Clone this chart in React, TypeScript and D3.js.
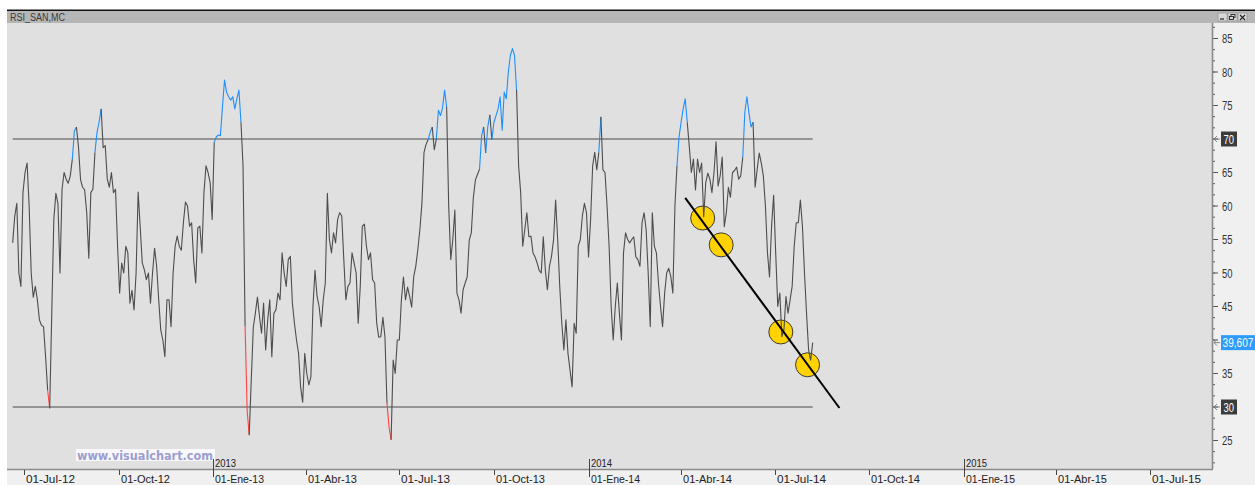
import * as d3 from "d3";

// RSI readings, one every 2 calendar days from rsiStart
const rsiStart = new Date(2012, 5, 20);
const rsiStepDays = 2;
const rsiValues = [
  54.5, 58.5, 60.4, 50, 48, 62, 65, 66.4, 60, 50,
  46.4, 48, 46, 43, 42.2, 42, 37.5, 32.5, 29.8, 44,
  58, 61.9, 60.4, 50, 62.5, 65, 64, 63.4, 64.5, 67,
  71.2, 71.8, 68.8, 63.9, 62.8, 62.4, 59, 52.2, 62, 62.5,
  68, 71, 72.5, 74.5, 68.7, 69, 64, 62.8, 65, 62,
  62.5, 54, 47, 51.5, 50, 54, 53, 45.5, 47.4, 44.5,
  50, 62.1, 56.9, 51.5, 50.5, 49, 50, 45.5, 50, 53.7,
  51, 46, 41.5, 40, 37.5, 46, 46, 42, 50, 54,
  55.5, 54, 53.4, 57.5, 60.6, 60, 57, 57.5, 52, 48.5,
  56.7, 57, 53, 62, 66, 65, 63.5, 58, 69.5, 70.3,
  70.6, 70.5, 74.8, 78.8, 77, 76.3, 75.8, 76.3, 74.5, 76,
  77.3, 72.5, 66, 42, 29.5, 25.8, 34, 41.9, 44, 46.4,
  43.5, 41, 45.5, 38.5, 43, 46, 37.5, 44, 44.5, 47,
  46, 53, 50, 48, 52, 52.5, 45.5, 42.5, 40, 38,
  33, 30.7, 38, 35, 33.3, 34.5, 45, 50.4, 46.5, 45,
  42, 46, 48.5, 61.9, 55, 53, 56, 54.5, 58, 59,
  58.5, 52, 46, 48, 48.5, 53, 51.5, 50, 42.5, 48,
  57, 57.3, 54, 52, 53, 49, 48.5, 42.5, 40.4, 40.5,
  43.4, 40.5, 30.5, 27, 25.1, 37, 35, 40, 40, 46,
  49.4, 46, 47.9, 46.5, 44.9, 49.5, 51, 53.5, 56.5, 60.5,
  68, 69.2, 69.9, 71, 71.8, 68.4, 70, 74.3, 73.5, 74.6,
  77.3, 74.8, 60, 52, 55, 59.4, 47, 46, 44, 47.5,
  48.5, 49.4, 54.9, 56, 61.3, 63.9, 64.7, 65.5, 70.5, 71.8,
  67.9, 71.8, 73.6, 69.9, 72.5, 73.5, 74.5, 76.3, 71.3, 77,
  76, 80, 82.5, 83.5, 82.5, 77.3, 66, 62, 54, 56.5,
  59, 55.4, 55.5, 53, 52.4, 51.5, 50.4, 50, 55.4, 50.4,
  47.5, 51, 52.5, 55, 60.9, 55, 48, 42.5, 38.5, 43,
  38, 35.5, 33, 42.5, 41, 54, 55, 58.5, 60.4, 59,
  52.4, 58, 66, 68, 65.4, 68, 73.3, 65.4, 65, 60,
  54, 45, 40, 45, 48.5, 44, 40, 53, 56, 55,
  54.5, 55, 55.4, 52.4, 52, 51, 57.5, 59, 56.5, 50,
  42, 59, 54, 53, 48.5, 45, 42, 47, 50, 50.7,
  49.5, 47, 60, 66, 70.3, 72.5, 74.5, 76, 72.5, 68.8,
  65, 67, 62.4, 67, 65, 66.4, 58.4, 63.5, 64.9, 64,
  62, 65, 69.6, 63, 64.5, 67.3, 56.9, 59, 62.8, 61.3,
  65, 65.3, 65.8, 64, 64.5, 67.3, 74, 76.3, 73.9, 71.8,
  72.5, 62.8, 65.5, 67.9, 66.4, 64.5, 60, 53, 49.4, 57,
  61.6, 53, 45, 47, 40.5, 41.5, 46.5, 44, 46, 48,
  54, 57.5, 57.5, 60.9, 57, 50, 44, 38.5, 37, 39.607,
];
const lastValueLabel = "39,607";

const upperLevel = 70;
const lowerLevel = 30;

// hand drawn trend line and the touches marked on it
const trendLine = [
  { date: new Date(2014, 3, 5), value: 61.2 },
  { date: new Date(2014, 8, 2), value: 29.85 },
];
const touchPoints = [
  { date: new Date(2014, 3, 22), value: 58.2 },
  { date: new Date(2014, 4, 10), value: 54.2 },
  { date: new Date(2014, 6, 7), value: 41.2 },
  { date: new Date(2014, 7, 2), value: 36.3 },
];

const monthNames = ["Ene", "Feb", "Mar", "Abr", "May", "Jun", "Jul", "Ago", "Sep", "Oct", "Nov", "Dic"];
const axisStart = new Date(2012, 6, 1);
const axisEnd = new Date(2015, 6, 1);
// 40 sits under the last-value box, so it is not labelled
const yMajorTicks = [20, 25, 30, 35, 40, 45, 50, 55, 60, 65, 70, 75, 80, 85];
const boxedLevels = [70, 30];
const hiddenLabels = [40];

const W = 1255;
const H = 485;
const plot = { left: 7, right: 1212, top: 23, bottom: 469 };
const FONT = "'Liberation Sans Narrow', 'Liberation Sans', Arial, sans-serif";
const GRAY = "#4d4d4d";
const BLUE = "#1e8fff";
const RED = "#ff4444";

interface Pt {
  date: Date;
  value: number;
}

export default function App() {
  const x = d3.scaleTime().domain([axisStart, axisEnd]).range([24, 1150]);
  const y = d3.scaleLinear().domain([lowerLevel, upperLevel]).range([407, 139]);

  const points: Pt[] = rsiValues.map((v, i) => ({
    date: d3.timeDay.offset(rsiStart, i * rsiStepDays),
    value: v,
  }));
  const first = points[0];
  const last = points[points.length - 1];

  const colorOf = (v: number) => (v > upperLevel ? BLUE : v < lowerLevel ? RED : GRAY);
  const runs: { color: string; pts: Pt[] }[] = [];
  for (let i = 1; i < points.length; i++) {
    const c = colorOf(points[i].value);
    const cur = runs[runs.length - 1];
    if (cur && cur.color === c) cur.pts.push(points[i]);
    else runs.push({ color: c, pts: [points[i - 1], points[i]] });
  }

  const line = d3
    .line<Pt>()
    .x((d) => x(d.date))
    .y((d) => y(d.value));

  const xTicks = d3.timeMonth.every(3)!.range(axisStart, d3.timeDay.offset(axisEnd, 1));
  const fmtDay = d3.timeFormat("%d");
  const fmtYY = d3.timeFormat("%y");
  const fmtYYYY = d3.timeFormat("%Y");

  const minorStep = 5 / 3;
  const yMinor = d3.range(20, 87.5, minorStep);

  const lastY = y(last.value);
  const arrow = (ay: number) =>
    `M${plot.right + 8},${ay} H${plot.right + 2} M${plot.right + 5},${ay - 3} L${plot.right + 2},${ay} L${plot.right + 5},${ay + 3}`;

  return (
    <div style={{ position: "absolute", left: 0, top: 0, width: W, height: H, background: "#fff" }}>
      <svg width={W} height={H} style={{ display: "block" }} fontFamily={FONT}>
        <defs>
          <clipPath id="plotClip">
            <rect x={plot.left} y={plot.top} width={plot.right - plot.left} height={plot.bottom - plot.top} />
          </clipPath>
          <clipPath id="axisClip">
            <rect x={plot.right} y={plot.top} width={W - plot.right} height={plot.bottom - plot.top} />
          </clipPath>
        </defs>

        {/* window frame + title bar */}
        <rect x={plot.left} y={9.5} width={W - plot.left} height={1.5} fill="#111" />
        <rect x={plot.left} y={11} width={W - plot.left} height={12} fill="#b6b6b6" />
        <text x={10} y={20.5} fontSize={10} fill="#3a3a3a" textLength={55} lengthAdjust="spacingAndGlyphs">
          RSI_SAN,MC
        </text>
        {[1218, 1228, 1238].map((bx, i) => (
          <g key={bx}>
            <rect x={bx} y={13} width={9} height={8} fill="#d6d6d6" stroke="#8a8a8a" strokeWidth={0.6} />
            {i === 0 && <line x1={bx + 2} x2={bx + 6} y1={19} y2={19} stroke="#222" strokeWidth={1.2} />}
            {i === 1 && (
              <g fill="none" stroke="#222" strokeWidth={0.9}>
                <rect x={bx + 3} y={14.5} width={4} height={3} />
                <rect x={bx + 1.5} y={16.5} width={4} height={3} fill="#d6d6d6" />
              </g>
            )}
            {i === 2 && (
              <path d={`M${bx + 2},${15} L${bx + 7},${20} M${bx + 7},${15} L${bx + 2},${20}`} stroke="#222" strokeWidth={1.1} />
            )}
          </g>
        ))}

        {/* panels */}
        <rect x={plot.left} y={plot.top} width={plot.right - plot.left} height={plot.bottom - plot.top} fill="#e0e0e0" />
        <rect x={plot.right} y={plot.top} width={W - plot.right} height={plot.bottom - plot.top} fill="#f0f0f0" />

        <g clipPath="url(#plotClip)">
          {/* overbought / oversold levels */}
          {[upperLevel, lowerLevel].map((lv) => (
            <line
              key={lv}
              x1={x(first.date)}
              x2={x(last.date)}
              y1={y(lv)}
              y2={y(lv)}
              stroke="#7c7c7c"
              strokeWidth={1.6}
            />
          ))}

          {/* touches */}
          {touchPoints.map((p, i) => (
            <circle key={i} cx={x(p.date)} cy={y(p.value)} r={12} fill="#ffd200" stroke="#3a3a3a" strokeWidth={1} />
          ))}

          {/* RSI */}
          {runs.map((r, i) => (
            <path key={i} d={line(r.pts) ?? ""} fill="none" stroke={r.color} strokeWidth={1.1} strokeLinejoin="round" />
          ))}

          <path d={line(trendLine) ?? ""} stroke="#000" strokeWidth={2} fill="none" />

          {/* watermark */}
          <rect x={76} y={449} width={139} height={12} fill="#f8f8fb" />
          <text
            x={77}
            y={459.5}
            fontFamily="'DejaVu Sans', Verdana, sans-serif"
            fontWeight="bold"
            fontSize={12.5}
            fill="#9d9dd0"
            textLength={136}
            lengthAdjust="spacingAndGlyphs"
          >
            www.visualchart.com
          </text>
        </g>

        {/* right value axis */}
        <g clipPath="url(#axisClip)">
          {yMinor.map((v, i) => (
            <line key={i} x1={plot.right} x2={plot.right + 3} y1={y(v)} y2={y(v)} stroke="#555" strokeWidth={1} />
          ))}
          {yMajorTicks.map((v) => (
            <g key={v}>
              <line x1={plot.right} x2={plot.right + 6} y1={y(v)} y2={y(v)} stroke="#555" strokeWidth={1} />
              {!boxedLevels.includes(v) && !hiddenLabels.includes(v) && (
                <text
                  x={1222}
                  y={y(v)}
                  dy="0.36em"
                  fontSize={12.5}
                  fill="#333"
                  textLength={10.5}
                  lengthAdjust="spacingAndGlyphs"
                >
                  {v}
                </text>
              )}
            </g>
          ))}
          {boxedLevels.map((v) => (
            <g key={v}>
              <path d={arrow(y(v))} stroke="#777" strokeWidth={0.9} fill="none" />
              <rect x={1221} y={y(v) - 7.5} width={16} height={15} fill="#3c3c3c" />
              <text
                x={1223.5}
                y={y(v)}
                dy="0.36em"
                fontSize={12.5}
                fill="#fff"
                textLength={10.5}
                lengthAdjust="spacingAndGlyphs"
              >
                {v}
              </text>
            </g>
          ))}
          <path d={arrow(lastY)} stroke="#777" strokeWidth={0.9} fill="none" />
          <rect x={1221} y={lastY - 7.5} width={34} height={15} fill="#2f9bff" />
          <text
            x={1222.5}
            y={lastY}
            dy="0.36em"
            fontSize={12.5}
            fill="#f4f8ff"
            textLength={31}
            lengthAdjust="spacingAndGlyphs"
          >
            {lastValueLabel}
          </text>
        </g>
        <line x1={plot.right + 0.5} x2={plot.right + 0.5} y1={plot.top} y2={plot.bottom} stroke="#8a8a8a" strokeWidth={1.6} />

        {/* bottom date axis */}
        <rect x={plot.left} y={plot.bottom} width={W - plot.left} height={H - plot.bottom} fill="#f0f0f0" />
        <line x1={plot.left} x2={plot.right + 1} y1={plot.bottom + 0.5} y2={plot.bottom + 0.5} stroke="#8a8a8a" strokeWidth={1.6} />
        {xTicks.map((d) => {
          const tx = Math.round(x(d)) + 0.5;
          const isYear = d.getMonth() === 0;
          return (
            <g key={d.getTime()}>
              <line x1={tx} x2={tx} y1={isYear ? 459 : 470} y2={isYear ? 477 : 475} stroke="#444" strokeWidth={1} />
              {isYear && (
                <text x={tx + 1.5} y={467} fontSize={11.5} fill="#222" textLength={21} lengthAdjust="spacingAndGlyphs">
                  {fmtYYYY(d)}
                </text>
              )}
              <text x={tx + 1.5} y={482.5} fontSize={11.5} fill="#222" textLength={49} lengthAdjust="spacingAndGlyphs">
                {`${fmtDay(d)}-${monthNames[d.getMonth()]}-${fmtYY(d)}`}
              </text>
            </g>
          );
        })}
      </svg>
    </div>
  );
}
